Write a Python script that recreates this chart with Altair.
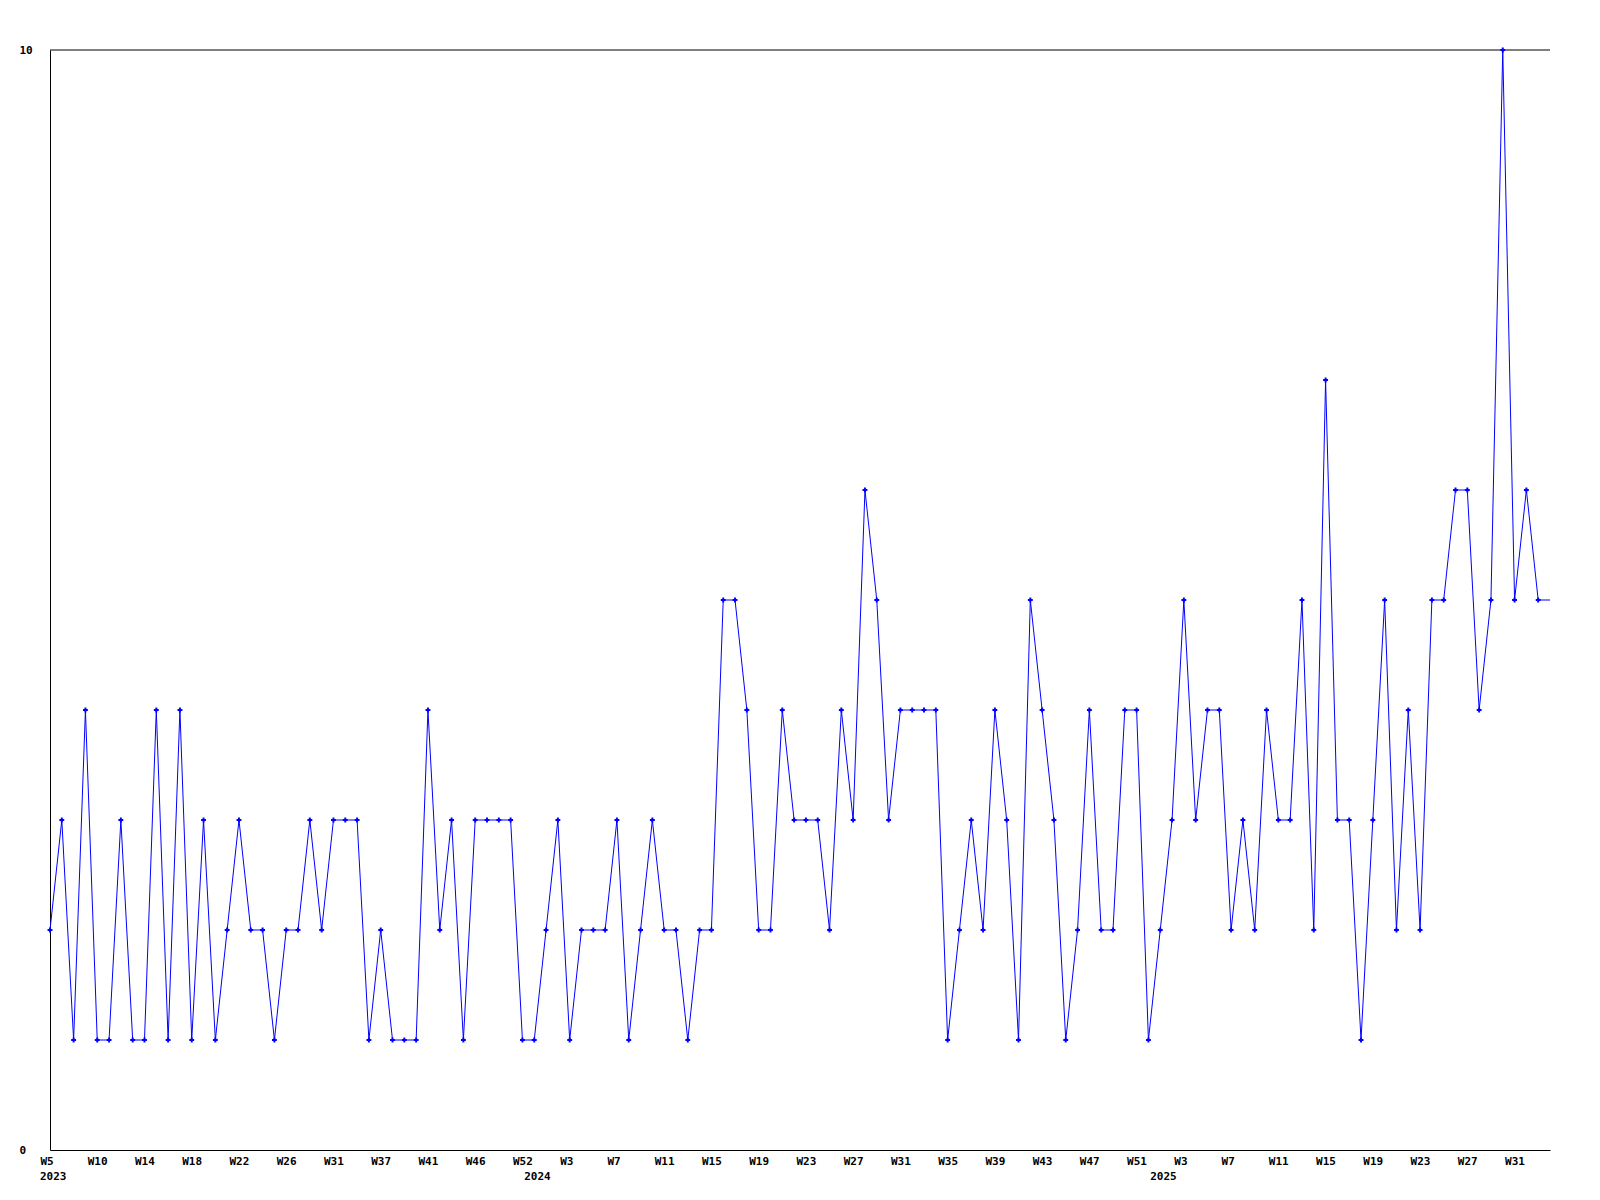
import altair as alt
import pandas as pd

# weekly counts (one point per week that has data)
values = [
    2, 3, 1, 4, 1, 1, 3, 1, 1, 4, 1, 4, 1, 3, 1, 2, 3, 2, 2, 1,
    2, 2, 3, 2, 3, 3, 3, 1, 2, 1, 1, 1, 4, 2, 3, 1, 3, 3, 3, 3,
    1, 1, 2, 3, 1, 2, 2, 2, 3, 1, 2, 3, 2, 2, 1, 2, 2, 5, 5, 4,
    2, 2, 4, 3, 3, 3, 2, 4, 3, 6, 5, 3, 4, 4, 4, 4, 1, 2, 3, 2,
    4, 3, 1, 5, 4, 3, 1, 2, 4, 2, 2, 4, 4, 1, 2, 3, 5, 3, 4, 4,
    2, 3, 2, 4, 3, 3, 5, 2, 7, 3, 3, 1, 3, 5, 2, 4, 2, 5, 5, 6,
    6, 4, 5, 10, 5, 6, 5, 5,
]

# week labels shown every 4th point
tick_labels = [
    "W5", "W10", "W14", "W18", "W22", "W26", "W31", "W37", "W41", "W46", "W52",
    "W3", "W7", "W11", "W15", "W19", "W23", "W27", "W31", "W35", "W39", "W43",
    "W47", "W51", "W3", "W7", "W11", "W15", "W19", "W23", "W27", "W31",
]
tick_step = 4

# year labels and the point index where each year starts
year_labels = ["2023", "2024", "2025"]
year_index = [0, 41, 94]

n = len(values)
df = pd.DataFrame({"i": list(range(n)), "v": values})
df_pts = df.iloc[:-1]
years = pd.DataFrame({"i": year_index, "label": year_labels})

W, H = 1500, 1100
FONT = "DejaVu Sans Mono"
BLUE = "#0000ff"

label_arr = "[" + ",".join("'%s'" % t for t in tick_labels) + "]"

xscale = alt.Scale(domain=[0, n - 1], nice=False, zero=False)
yscale = alt.Scale(domain=[0, 10], nice=False, zero=True)

x_axis = alt.Axis(
    values=list(range(0, n, tick_step)),
    labelExpr=f"{label_arr}[round(datum.value / {tick_step})]",
    title=None, grid=False, ticks=False, tickSize=0,
    labelAlign="left", labelOffset=-10, labelPadding=5, labelBaseline="top",
    labelFlush=False, labelOverlap=False,
    labelFont=FONT, labelFontSize=11, labelFontWeight="bold", labelColor="black",
    domainColor="black", domainWidth=1,
)
y_axis = alt.Axis(
    values=[0, 10], format="d", title=None, grid=False, ticks=False, tickSize=0,
    labelAlign="left", labelPadding=31, labelBaseline="middle",
    labelFont=FONT, labelFontSize=11, labelFontWeight="bold", labelColor="black",
    domainColor="black", domainWidth=1,
)

line = alt.Chart(df).mark_line(color=BLUE, strokeWidth=1).encode(
    x=alt.X("i:Q", scale=xscale, axis=x_axis),
    y=alt.Y("v:Q", scale=yscale, axis=y_axis),
)
pts = alt.Chart(df_pts).mark_point(
    shape="cross", filled=True, color=BLUE, size=24, opacity=1
).encode(
    x=alt.X("i:Q", scale=xscale),
    y=alt.Y("v:Q", scale=yscale),
)
top_rule = alt.Chart(pd.DataFrame({"t": [10]})).mark_rule(
    color="black", strokeWidth=1
).encode(y=alt.Y("t:Q", scale=yscale))

year_text = alt.Chart(years).mark_text(
    align="left", baseline="middle", dx=-10, font=FONT, fontSize=11,
    fontWeight="bold", color="black",
).encode(
    x=alt.X("i:Q", scale=xscale),
    y=alt.value(H + 27),
    text="label:N",
)

chart = alt.layer(line, top_rule, pts, year_text).properties(
    width=W, height=H,
    autosize=alt.AutoSizeParams(type="none"),
    padding={"left": 42, "top": 42, "right": 40, "bottom": 50},
    background="white",
).configure_view(stroke=None)

chart.save("out.html", embed_options={"renderer": "svg", "actions": False})
